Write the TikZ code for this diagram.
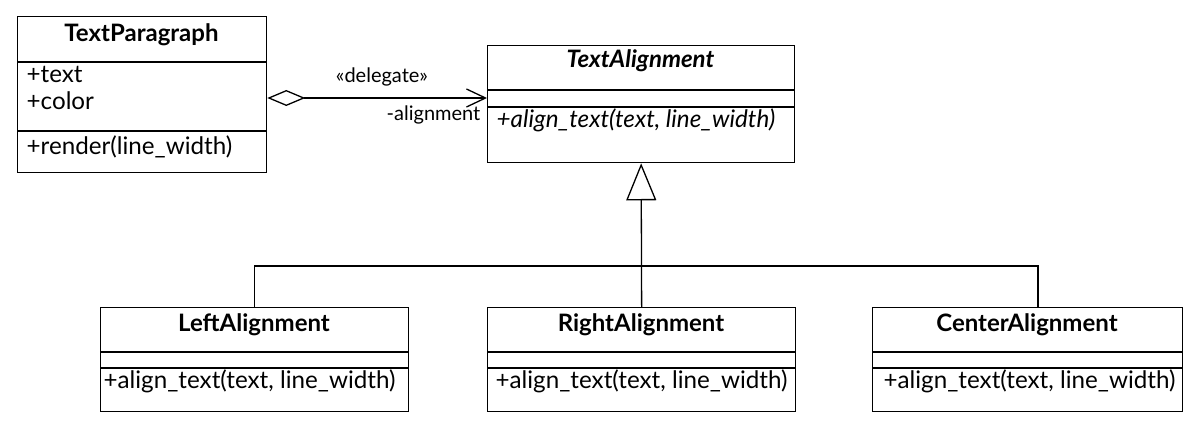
\documentclass[tikz,border=0pt]{standalone}
\usepackage{fontspec}
\setmainfont{Lato}
\usetikzlibrary{arrows.meta}
\begin{document}
\begin{tikzpicture}[x=1pt,y=-1pt,line width=1.3pt,
  cls/.style={draw,rectangle,inner sep=0pt,anchor=north west},
  txt/.style={font=\fontsize{24.2}{29}\selectfont,inner sep=0pt,anchor=base west},
  hdr/.style={font=\fontsize{24}{29}\selectfont\bfseries,inner sep=0pt,anchor=base},
  lbl/.style={font=\fontsize{20}{24}\selectfont,inner sep=0pt}]
\useasboundingbox (0,0) rectangle (1200,428);
% TextParagraph
\node[cls,minimum width=249pt,minimum height=156pt] (tp) at (17,16) {};
\draw (tp.north west) ++(0,46) -- ++(249,0);
\draw (tp.north west) ++(0,115) -- ++(249,0);
\node[hdr] (tph) at (141.5,42) {TextParagraph};
\node[txt] (tpa1) at (26,83) {+text};
\node[txt] (tpa2) at (26,110) {+color};
\node[txt] (tpm) at (26,154) {+render(line\_width)};
% TextAlignment
\node[cls,minimum width=307pt,minimum height=117pt] (ta) at (487,45) {};
\draw (ta.north west) ++(0,45) -- ++(307,0);
\draw (ta.north west) ++(0,62) -- ++(307,0);
\node[hdr,font=\fontsize{24}{29}\selectfont\bfseries\itshape] (tah) at (640.5,68) {TextAlignment};
\node[txt,font=\fontsize{24.2}{29}\selectfont\itshape] (tam) at (496,127) {+align\_text(text, line\_width)};
% LeftAlignment
\node[cls,minimum width=308pt,minimum height=104pt] (la) at (100,307) {};
\draw (la.north west) ++(0,45) -- ++(308,0);
\draw (la.north west) ++(0,61) -- ++(308,0);
\node[hdr] (lah) at (254,331) {LeftAlignment};
\node[txt] (lam) at (103,388) {+align\_text(text, line\_width)};
% RightAlignment
\node[cls,minimum width=308pt,minimum height=104pt] (ra) at (487,307) {};
\draw (ra.north west) ++(0,45) -- ++(308,0);
\draw (ra.north west) ++(0,61) -- ++(308,0);
\node[hdr] (rah) at (641,331) {RightAlignment};
\node[txt] (ram) at (495,388) {+align\_text(text, line\_width)};
% CenterAlignment
\node[cls,minimum width=310pt,minimum height=104pt] (ca) at (872,307) {};
\draw (ca.north west) ++(0,45) -- ++(310,0);
\draw (ca.north west) ++(0,61) -- ++(310,0);
\node[hdr] (cah) at (1027,331) {CenterAlignment};
\node[txt] (cam) at (883,388) {+align\_text(text, line\_width)};
% aggregation
\draw[{Diamond[open,length=38pt,width=16pt]}-{Straight Barb[length=19pt,width=18pt]}] (tp.east |- 0,98) -- (ta.west |- 0,98);
\node[lbl,anchor=base] (dl) at (382,83) {«delegate»};
\node[lbl,anchor=base east] (al) at (481,121) {-alignment};
% generalization
\coordinate (tj) at (640,266);
\coordinate (cj) at (1038,307);
\draw[-{Triangle[open,length=37pt,width=30pt]}] (ra.north) -- (ta.south);
\draw (la.north) |- (tj) -| (cj);
\end{tikzpicture}
\end{document}
